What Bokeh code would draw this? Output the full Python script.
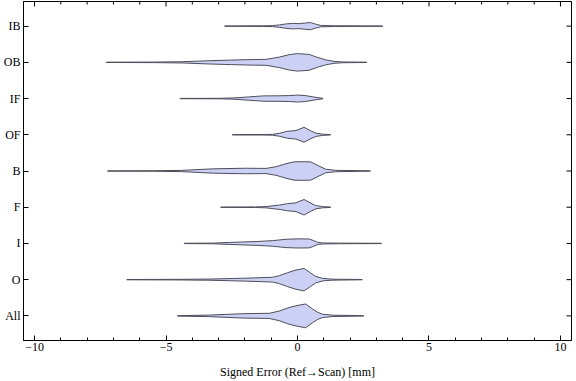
import numpy as np
from bokeh.plotting import figure
from bokeh.models import ColumnDataSource, Range1d, SingleIntervalTicker, FixedTicker
from bokeh.embed import file_html
from bokeh.resources import INLINE

# ---- data ----
categories = ["All", "O", "I", "F", "B", "OF", "IF", "OB", "IB"]

x_all = [-4.56, -3.34, -2.08, -1.07, -0.69, -0.38, -0.06, 0.31, 0.57, 0.76, 0.95, 1.32, 2.52]
d_all = [0.2, 0.8, 2.2, 2.6, 4.9, 7.9, 10.2, 12.0, 7.0, 3.7, 1.7, 0.7, 0.15]

x_o = [-6.49, -4.5, -3.34, -2.08, -0.95, -0.69, -0.38, -0.06, 0.25, 0.5, 0.69, 0.95, 1.32, 2.46]
d_o = [0.15, 0.3, 0.6, 1.4, 2.4, 4.0, 7.0, 9.7, 11.3, 6.8, 3.3, 1.3, 0.5, 0.15]

x_i = [-4.31, -3.2, -2.58, -2.08, -1.5, -0.95, -0.44, 0.0, 0.44, 0.6, 0.76, 0.95, 1.6, 3.19]
d_i = [0.15, 0.35, 1.0, 1.5, 2.0, 2.8, 4.2, 4.6, 4.5, 3.0, 1.2, 0.5, 0.3, 0.15]

x_f = [-2.92, -1.6, -1.2, -0.69, -0.38, -0.06, 0.25, 0.5, 0.69, 0.95, 1.26]
d_f = [0.15, 0.3, 0.6, 2.2, 3.6, 4.4, 7.8, 4.2, 1.7, 0.6, 0.15]

x_b = [-7.22, -5.5, -4.42, -3.2, -1.95, -1.2, -0.82, -0.44, -0.13, 0.2, 0.5, 0.82, 1.07, 1.45, 2.77]
d_b = [0.15, 0.25, 0.6, 2.2, 2.8, 2.6, 4.3, 7.3, 9.2, 9.4, 9.2, 5.0, 1.8, 0.7, 0.15]

x_of = [-2.48, -1.3, -0.95, -0.69, -0.38, -0.06, 0.25, 0.5, 0.69, 0.95, 1.26]
d_of = [0.15, 0.25, 0.4, 1.5, 3.5, 4.3, 7.5, 4.0, 1.7, 0.6, 0.15]

x_if = [-4.47, -3.0, -2.45, -1.83, -1.3, -0.7, -0.3, 0.0, 0.31, 0.63, 0.97]
d_if = [0.15, 0.25, 0.6, 1.7, 2.7, 2.8, 3.0, 3.5, 3.0, 1.5, 0.2]

x_ob = [-7.27, -5.5, -4.4, -3.3, -2.5, -1.9, -1.2, -0.69, -0.31, 0.0, 0.44, 0.76, 1.07, 1.39, 1.7, 2.63]
d_ob = [0.15, 0.25, 0.6, 1.7, 2.3, 2.7, 3.0, 5.3, 7.8, 8.8, 8.0, 5.0, 2.5, 1.0, 0.4, 0.15]

x_ib = [-2.77, -1.3, -0.95, -0.69, -0.44, -0.19, 0.06, 0.31, 0.5, 0.69, 0.88, 1.4, 3.24]
d_ib = [0.15, 0.3, 0.5, 1.2, 2.2, 2.8, 2.5, 3.2, 3.6, 2.0, 0.7, 0.35, 0.15]

x_ticks = [-10, -5, 0, 5, 10]
x_tick_labels = ["\u221210", "\u22125", "0", "5", "10"]
x_minor_step = 1
x_label = "Signed Error (Ref\u2192Scan) [mm]"

profiles = [(x_all, d_all), (x_o, d_o), (x_i, d_i), (x_f, d_f), (x_b, d_b),
            (x_of, d_of), (x_if, d_if), (x_ob, d_ob), (x_ib, d_ib)]

# ---- layout constants ----
X0, X1 = -10.42, 10.42
Y0, Y1 = 0.32, 9.68
W, H = 576, 381
B_LEFT, B_RIGHT, B_TOP, B_BOTTOM = 20, 5, 1, 40
FONT = "'Liberation Serif'"

# ---- build violin polygons ----
DENSITY_SCALE = 1 / 36.5
xs, ys = [], []
for k, (xv, dv) in enumerate(profiles):
    pos = k + 1
    upper = [pos + d * DENSITY_SCALE for d in dv]
    lower = [pos - d * DENSITY_SCALE for d in dv]
    xs.append(list(xv) + list(reversed(xv)))
    ys.append(upper + list(reversed(lower)))

src = ColumnDataSource(dict(xs=xs, ys=ys))

p = figure(width=W, height=H, output_backend="svg", toolbar_location=None,
           x_range=Range1d(X0, X1), y_range=Range1d(Y0, Y1),
           min_border_left=B_LEFT, min_border_right=B_RIGHT,
           min_border_top=B_TOP, min_border_bottom=B_BOTTOM)
p.background_fill_color = "white"
p.border_fill_color = "white"
p.outline_line_color = "black"
p.outline_line_width = 1
p.xgrid.visible = False
p.ygrid.visible = False

p.patches("xs", "ys", source=src, fill_color="#cbd0f4", fill_alpha=1.0,
          line_color="#4e4e5a", line_width=1)

# bottom axis
xb = p.xaxis[0]
xb.ticker = SingleIntervalTicker(interval=5, num_minor_ticks=5)
xb.major_tick_in = 5
xb.major_tick_out = 0
xb.minor_tick_in = 3
xb.minor_tick_out = 0
xb.axis_line_color = "black"
xb.major_label_overrides = {t: l for t, l in zip(x_ticks, x_tick_labels)}
xb.major_label_text_font = FONT
xb.major_label_text_font_size = "12px"
xb.major_label_text_color = "black"
xb.major_label_standoff = 2
xb.axis_label = x_label
xb.axis_label_text_font = FONT
xb.axis_label_text_font_size = "12px"
xb.axis_label_text_font_style = "normal"
xb.axis_label_text_color = "black"
xb.axis_label_standoff = 11

# left axis
yl = p.yaxis[0]
yl.ticker = FixedTicker(ticks=list(range(1, len(categories) + 1)))
yl.major_tick_in = 5
yl.major_tick_out = 0
yl.minor_tick_line_color = None
yl.axis_line_color = "black"
yl.major_label_overrides = {i + 1: c for i, c in enumerate(categories)}
yl.major_label_text_font = FONT
yl.major_label_text_font_size = "12px"
yl.major_label_text_color = "black"
yl.major_label_standoff = 3

# mirrored ticks on top and right edges (no labels)
px_per_x = (W - B_LEFT - B_RIGHT) / (X1 - X0)
px_per_y = (H - B_TOP - B_BOTTOM) / (Y1 - Y0)
major_x = np.array(x_ticks, dtype=float)
all_x = np.arange(x_ticks[0], x_ticks[-1] + 0.001, x_minor_step)
minor_x = np.array([v for v in all_x if v not in x_ticks])
p.segment(x0=major_x, y0=Y1, x1=major_x, y1=Y1 - 5 / px_per_y, line_color="black", line_width=1)
p.segment(x0=minor_x, y0=Y1, x1=minor_x, y1=Y1 - 3 / px_per_y, line_color="black", line_width=1)
cat_y = np.arange(1, len(categories) + 1, dtype=float)
p.segment(x0=X1, y0=cat_y, x1=X1 - 5 / px_per_x, y1=cat_y, line_color="black", line_width=1)

open("out.html", "w").write(file_html(p, INLINE))
